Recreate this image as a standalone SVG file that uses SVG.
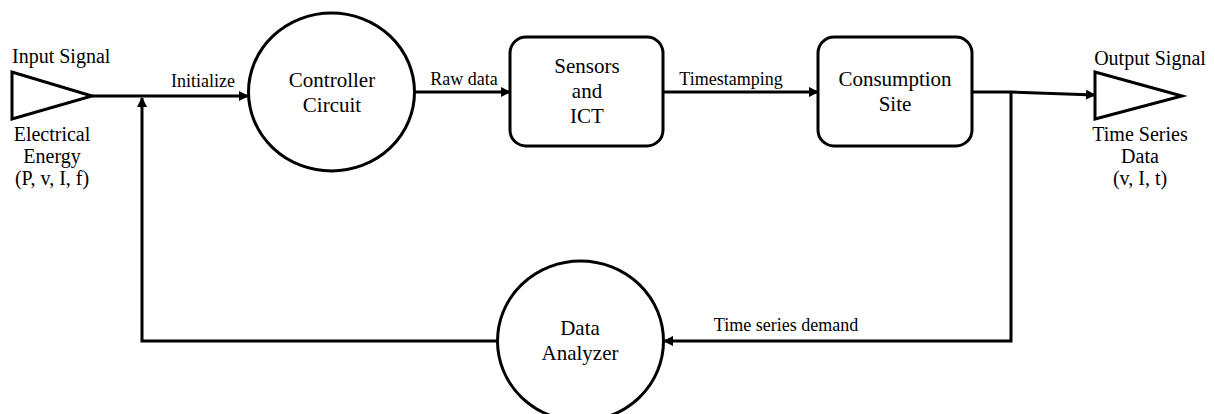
<svg xmlns="http://www.w3.org/2000/svg" width="1215" height="414" viewBox="0 0 1215 414">
<style>
  .shape { fill: #fff; stroke: #000; stroke-width: 3; }
  .line { fill: none; stroke: #000; stroke-width: 3; }
  text { font-family: "Liberation Serif", "Times New Roman", serif; fill: #000; text-anchor: middle; }
  .node { font-size: 21px; }
  .side { font-size: 20px; }
  .lbl { font-size: 18px; }
</style>
<defs>
  <marker id="arr" viewBox="0 0 10 10" refX="9" refY="5" markerWidth="10" markerHeight="10" markerUnits="userSpaceOnUse" orient="auto">
    <path d="M0,0 L10,5 L0,10 z" fill="#000"/>
  </marker>
</defs>
<rect width="1215" height="414" fill="#fff"/>
<g id="connectors">
  <line class="line" x1="92" y1="96" x2="248" y2="96" marker-end="url(#arr)"/>
  <text class="lbl" x="203" y="87">Initialize</text>
  <line class="line" x1="415" y1="92" x2="510" y2="92" marker-end="url(#arr)"/>
  <text class="lbl" x="464" y="85">Raw data</text>
  <line class="line" x1="663" y1="92" x2="818" y2="92" marker-end="url(#arr)"/>
  <text class="lbl" x="731" y="85">Timestamping</text>
  <polyline class="line" points="972,92 1011,92 1095,95" marker-end="url(#arr)"/>
  <polyline class="line" points="1011,92 1011,341 664,341" marker-end="url(#arr)"/>
  <text class="lbl" x="786" y="331">Time series demand</text>
  <polyline class="line" points="497,341 142,341 142,98" marker-end="url(#arr)"/>
</g>
<g id="input-signal">
  <polygon class="shape" points="12,72 12,119 92,96"/>
  <text class="side" x="12" y="63" style="text-anchor:start">Input Signal</text>
  <text class="side" x="52" y="141">Electrical</text>
  <text class="side" x="52" y="163">Energy</text>
  <text class="side" x="52" y="185">(P, v, I, f)</text>
</g>
<g id="controller-circuit">
  <ellipse class="shape" cx="331.5" cy="92" rx="83" ry="79"/>
  <text class="node" x="332" y="87">Controller</text>
  <text class="node" x="332" y="112">Circuit</text>
</g>
<g id="sensors-ict">
  <rect class="shape" x="510" y="37" width="153" height="109" rx="16"/>
  <text class="node" x="587" y="73">Sensors</text>
  <text class="node" x="587" y="98">and</text>
  <text class="node" x="587" y="123">ICT</text>
</g>
<g id="consumption-site">
  <rect class="shape" x="818" y="37" width="154" height="109" rx="16"/>
  <text class="node" x="895" y="86">Consumption</text>
  <text class="node" x="895" y="111">Site</text>
</g>
<g id="output-signal">
  <polygon class="shape" points="1095,72 1095,119 1182,96"/>
  <text class="side" x="1150" y="65">Output Signal</text>
  <text class="side" x="1140" y="141">Time Series</text>
  <text class="side" x="1140" y="163">Data</text>
  <text class="side" x="1140" y="185">(v, I, t)</text>
</g>
<g id="data-analyzer">
  <ellipse class="shape" cx="580.5" cy="341" rx="83" ry="80"/>
  <text class="node" x="580" y="335">Data</text>
  <text class="node" x="580" y="360">Analyzer</text>
</g>
</svg>
